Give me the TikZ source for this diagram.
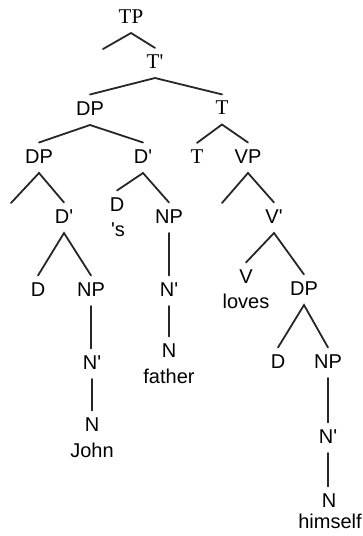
\documentclass[tikz,border=0pt]{standalone}
\usepackage{fontspec}
\usetikzlibrary{calc}
\newfontfamily\labsans{Liberation Sans}
\newfontfamily\labserif{Liberation Serif}
\newcommand\pr{\textquotesingle}
\begin{document}
\begin{tikzpicture}[x=1pt,y=-1pt,
  cat/.style={inner sep=0pt, anchor=base, font=\labsans\fontsize{20}{24}\selectfont,
    text height=14.3pt, text depth=0pt},
  scat/.style={cat, font=\labserif\fontsize{21}{25}\selectfont, text height=13.9pt},
  word/.style={inner sep=0pt, anchor=base, font=\labsans\fontsize{20}{24}\selectfont},
  branch/.style={line width=1.8pt, line cap=round, black!85}]
\useasboundingbox (0,0) rectangle (363,536);

% category labels (placed by baseline)
\node[scat] (tp)    at (131,23)  {TP};
\node[scat] (tbar)  at (155,68)  {T\pr};
\node[cat]  (dp)    at (90,115)  {DP};
\node[scat] (t)     at (222,114.5) {T};
\node[cat]  (dp2)   at (39,163)  {DP};
\node[cat]  (dbar)  at (143,163) {D\pr};
\node[scat] (t2)    at (197,163) {T};
\node[cat]  (vp)    at (248,163) {VP};
\node[cat]  (dbar2) at (64,223)  {D\pr};
\node[cat]  (dposs) at (117,211) {D};
\node[cat]  (np)    at (169,223) {NP};
\node[cat]  (vbar)  at (274,223) {V\pr};
\node[cat]  (d2)    at (38,296)  {D};
\node[cat]  (np2)   at (91,296)  {NP};
\node[cat]  (nbar)  at (169,296) {N\pr};
\node[cat]  (v)     at (246,283) {V};
\node[cat]  (dp3)   at (304,295) {DP};
\node[cat]  (nmid)  at (169,357) {N};
\node[cat]  (d3)    at (278,368) {D};
\node[cat]  (np3)   at (328,368) {NP};
\node[cat]  (nbar2) at (92,369)  {N\pr};
\node[cat]  (n2)    at (92,431)  {N};
\node[cat]  (nbar3) at (328,443) {N\pr};
\node[cat]  (n3)    at (329,507) {N};

% lexical items
\node[word] (poss)    at (118,236) {\pr s};
\node[word] (loves)   at (246,308) {loves};
\node[word] (father)  at (169,383) {father};
\node[word] (john)    at (92,457)  {John};
\node[word] (himself) at (330,528) {himself};

% empty branch ends
\coordinate (e1) at (103,49);
\coordinate (e2) at (11,203);
\coordinate (e3) at (222,203);

% binary branches
\draw[branch] (e1) -- ([yshift=-10pt]tp.base) -- ([yshift=6pt]tbar.north);
\draw[branch] ([yshift=6pt]dp.north) -- ([yshift=-10pt]tbar.base) -- ([yshift=6pt]t.north);
\draw[branch] ([yshift=6pt]dp2.north) -- ([yshift=-10pt]dp.base) -- ([yshift=6pt]dbar.north);
\draw[branch] ([yshift=6pt]t2.north) -- ([yshift=-10pt]t.base) -- ([yshift=6pt]vp.north);
\draw[branch] (e2) -- ([yshift=-10pt]dp2.base) -- ([yshift=6pt]dbar2.north);
\draw[branch] ([yshift=6pt]dposs.north) -- ([yshift=-10pt]dbar.base) -- ([yshift=6pt]np.north);
\draw[branch] (e3) -- ([yshift=-10pt]vp.base) -- ([yshift=6pt]vbar.north);
\draw[branch] ([yshift=6pt]d2.north) -- ([yshift=-10pt]dbar2.base) -- ([yshift=6pt]np2.north);
\draw[branch] ([yshift=6pt]v.north) -- ([yshift=-10pt]vbar.base) -- ([yshift=6pt]dp3.north);
\draw[branch] ([yshift=6pt]d3.north) -- ([yshift=-10pt]dp3.base) -- ([yshift=6pt]np3.north);

% unary branches
\draw[branch] ([yshift=-10pt]np.base) -- ($(np.base |- nbar.north)+(0,-6)$);
\draw[branch] ([yshift=-10pt]nbar.base) -- ($(nbar.base |- nmid.north)+(0,-6)$);
\draw[branch] ([yshift=-10pt]np2.base) -- ($(np2.base |- nbar2.north)+(0,-6)$);
\draw[branch] ([yshift=-10pt]nbar2.base) -- ($(nbar2.base |- n2.north)+(0,-6)$);
\draw[branch] ([yshift=-10pt]np3.base) -- ($(np3.base |- nbar3.north)+(0,-6)$);
\draw[branch] ([yshift=-10pt]nbar3.base) -- ($(nbar3.base |- n3.north)+(0,-6)$);
\end{tikzpicture}
\end{document}
